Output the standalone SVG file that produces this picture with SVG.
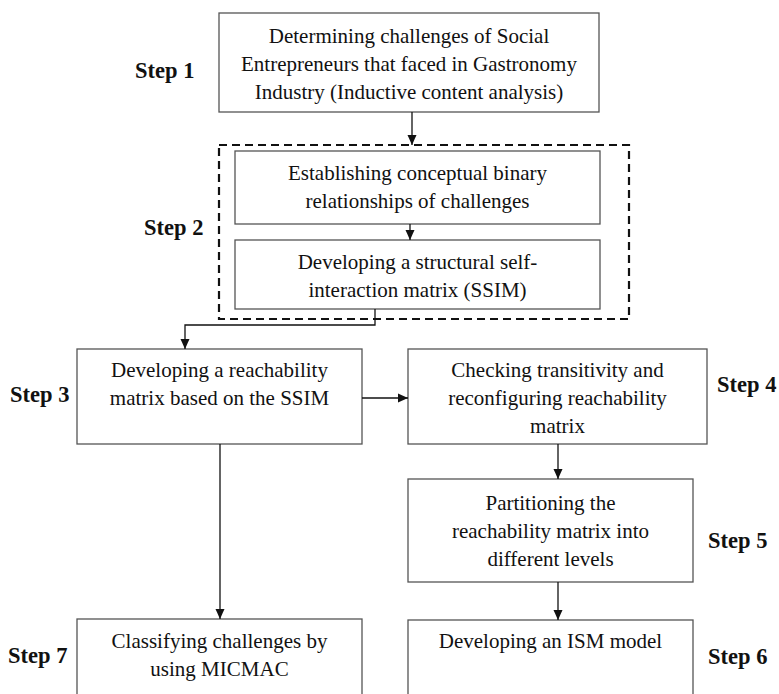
<svg xmlns="http://www.w3.org/2000/svg" width="779" height="694" viewBox="0 0 779 694">
<style>
.box{fill:#fff;stroke:#555;stroke-width:1.3}
.t{font-family:'Liberation Serif','DejaVu Serif',serif;font-size:21px;fill:#111;text-anchor:middle}
.s{font-family:'Liberation Serif','DejaVu Serif',serif;font-size:22.5px;font-weight:bold;fill:#111}
.c{fill:none;stroke:#111;stroke-width:1.3}
.d{fill:none;stroke:#111;stroke-width:2.2;stroke-dasharray:8 5}
</style>
<defs>
<marker id="ah" markerWidth="10" markerHeight="10" viewBox="0 0 10 10" refX="10" refY="5" orient="auto" markerUnits="userSpaceOnUse">
<path d="M0,0.5 L10,5 L0,9.5 Z" fill="#111"/>
</marker>
</defs>
<rect width="779" height="694" fill="#fff"/>
<g id="labels">
<text class="s" x="135" y="78">Step 1</text>
<text class="s" x="144" y="235">Step 2</text>
<text class="s" x="10" y="402">Step 3</text>
<text class="s" x="717" y="392">Step 4</text>
<text class="s" x="708" y="548">Step 5</text>
<text class="s" x="708" y="664">Step 6</text>
<text class="s" x="8" y="663">Step 7</text>
</g>
<g id="group2"><rect class="d" x="219" y="145" width="410" height="174"/></g>
<g id="n1"><rect class="box" x="219" y="13" width="380" height="99"/>
<text class="t" x="409" y="43">Determining challenges of Social</text>
<text class="t" x="409" y="71">Entrepreneurs that faced in Gastronomy</text>
<text class="t" x="409" y="99">Industry (Inductive content analysis)</text></g>
<g id="n2a"><rect class="box" x="235" y="151" width="365" height="73"/>
<text class="t" x="417.5" y="180">Establishing conceptual binary</text>
<text class="t" x="417.5" y="208">relationships of challenges</text></g>
<g id="n2b"><rect class="box" x="235" y="240" width="365" height="69"/>
<text class="t" x="417.5" y="269">Developing a structural self-</text>
<text class="t" x="417.5" y="297">interaction matrix (SSIM)</text></g>
<g id="n3"><rect class="box" x="77" y="349" width="285" height="95"/>
<text class="t" x="219.5" y="377">Developing a reachability</text>
<text class="t" x="219.5" y="405">matrix based on the SSIM</text></g>
<g id="n4"><rect class="box" x="408" y="349" width="299" height="95"/>
<text class="t" x="557.5" y="377">Checking transitivity and</text>
<text class="t" x="557.5" y="405">reconfiguring reachability</text>
<text class="t" x="557.5" y="433">matrix</text></g>
<g id="n5"><rect class="box" x="408" y="479" width="285" height="103"/>
<text class="t" x="550.5" y="510">Partitioning the</text>
<text class="t" x="550.5" y="538">reachability matrix into</text>
<text class="t" x="550.5" y="566">different levels</text></g>
<g id="n6"><rect class="box" x="408" y="620" width="285" height="90"/>
<text class="t" x="550.5" y="648">Developing an ISM model</text></g>
<g id="n7"><rect class="box" x="77" y="619" width="285" height="90"/>
<text class="t" x="219.5" y="648">Classifying challenges by</text>
<text class="t" x="219.5" y="676">using MICMAC</text></g>
<g id="connectors">
<path class="c" d="M412,112 V145" marker-end="url(#ah)"/>
<path class="c" d="M410,224 V240" marker-end="url(#ah)"/>
<path class="c" d="M375,309 V325 H185 V349" marker-end="url(#ah)"/>
<path class="c" d="M362,398 H408" marker-end="url(#ah)"/>
<path class="c" d="M558,444 V479" marker-end="url(#ah)"/>
<path class="c" d="M220,444 V619" marker-end="url(#ah)"/>
<path class="c" d="M558,582 V620" marker-end="url(#ah)"/>
</g>
</svg>
